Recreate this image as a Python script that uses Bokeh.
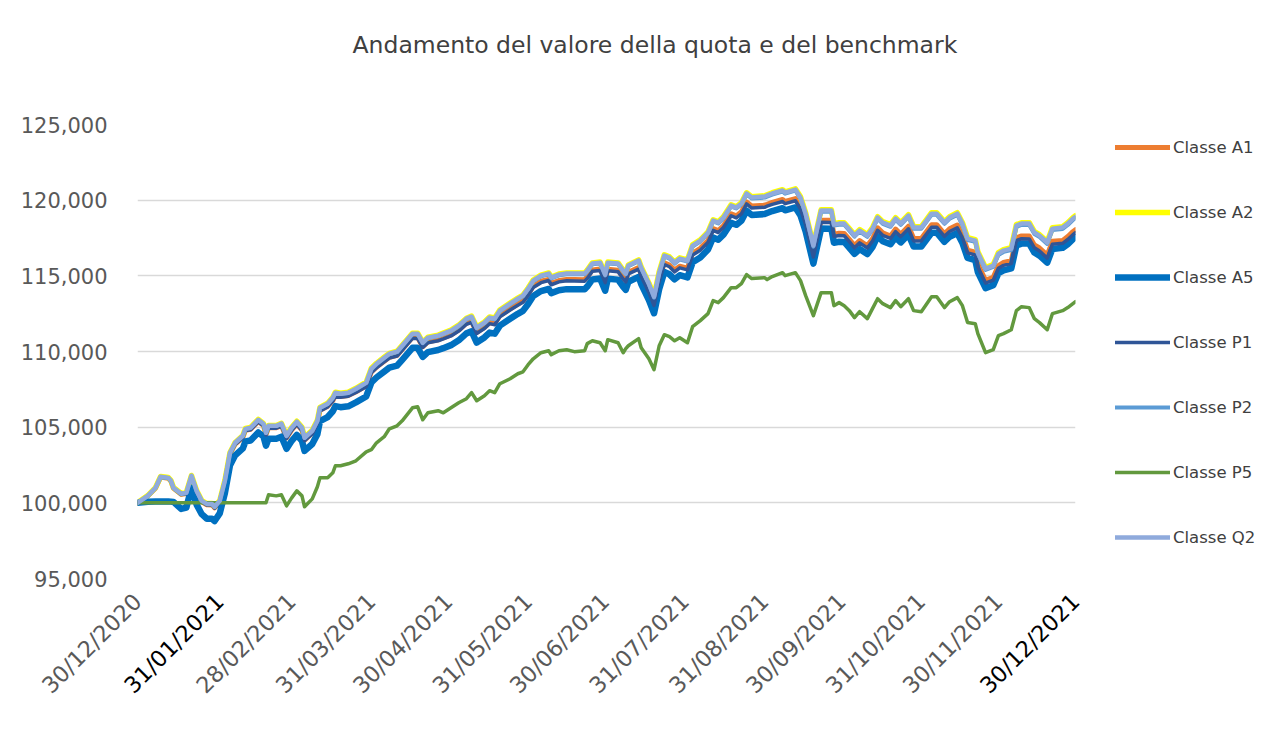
import pandas as pd
from bokeh.plotting import figure
from bokeh.models import (FixedTicker, DatetimeTickFormatter, NumeralTickFormatter,
                          Legend, LegendItem, Range1d, Title, DatetimeAxis)
from bokeh.embed import file_html
from bokeh.resources import INLINE

# ---------------- data ----------------
dates = [
    "2020-12-30", "2021-01-03", "2021-01-06", "2021-01-08", "2021-01-11", "2021-01-12", "2021-01-13",
    "2021-01-16", "2021-01-18", "2021-01-20", "2021-01-22", "2021-01-24", "2021-01-26", "2021-01-28",
    "2021-01-29", "2021-01-31", "2021-02-02", "2021-02-04", "2021-02-06", "2021-02-09", "2021-02-10",
    "2021-02-12", "2021-02-15", "2021-02-17", "2021-02-18", "2021-02-19", "2021-02-22", "2021-02-24",
    "2021-02-26", "2021-02-28", "2021-03-02", "2021-03-04", "2021-03-05", "2021-03-08", "2021-03-10",
    "2021-03-11", "2021-03-14", "2021-03-16", "2021-03-17", "2021-03-19", "2021-03-22", "2021-03-25",
    "2021-03-29", "2021-03-31", "2021-04-02", "2021-04-05", "2021-04-07", "2021-04-10", "2021-04-12",
    "2021-04-16", "2021-04-18", "2021-04-20", "2021-04-22", "2021-04-26", "2021-04-28", "2021-05-01",
    "2021-05-04", "2021-05-07", "2021-05-09", "2021-05-11", "2021-05-14", "2021-05-16", "2021-05-18",
    "2021-05-20", "2021-05-24", "2021-05-27", "2021-05-29", "2021-05-31", "2021-06-02", "2021-06-05",
    "2021-06-08", "2021-06-09", "2021-06-12", "2021-06-15", "2021-06-18", "2021-06-22", "2021-06-23",
    "2021-06-25", "2021-06-28", "2021-06-30", "2021-07-01", "2021-07-05", "2021-07-07", "2021-07-08",
    "2021-07-09", "2021-07-13", "2021-07-14", "2021-07-17", "2021-07-19", "2021-07-21", "2021-07-23",
    "2021-07-25", "2021-07-27", "2021-07-29", "2021-08-01", "2021-08-03", "2021-08-06", "2021-08-09",
    "2021-08-11", "2021-08-13", "2021-08-15", "2021-08-18", "2021-08-20", "2021-08-22", "2021-08-24",
    "2021-08-26", "2021-08-31", "2021-09-01", "2021-09-03", "2021-09-07", "2021-09-08", "2021-09-12",
    "2021-09-14", "2021-09-16", "2021-09-19", "2021-09-22", "2021-09-26", "2021-09-27", "2021-09-29",
    "2021-10-01", "2021-10-03", "2021-10-05", "2021-10-07", "2021-10-10", "2021-10-12", "2021-10-14",
    "2021-10-16", "2021-10-19", "2021-10-21", "2021-10-23", "2021-10-26", "2021-10-28", "2021-10-31",
    "2021-11-04", "2021-11-06", "2021-11-09", "2021-11-11", "2021-11-14", "2021-11-16", "2021-11-18",
    "2021-11-21", "2021-11-22", "2021-11-25", "2021-11-28", "2021-11-30", "2021-12-02", "2021-12-05",
    "2021-12-07", "2021-12-09", "2021-12-12", "2021-12-14", "2021-12-16", "2021-12-19", "2021-12-21",
    "2021-12-25", "2021-12-27", "2021-12-29", "2021-12-30",
]

classe_q2 = [
    100000, 100460, 100990, 101720, 101650, 101460, 100990, 100600, 100660, 101790, 100790, 100130,
    99930, 99930, 99740, 100130, 101460, 103310, 103970, 104430, 104890, 104960, 105490, 105230,
    104630, 105090, 105090, 105230, 104430, 104960, 105360, 104960, 104300, 104760, 105420, 106280,
    106550, 106940, 107280, 107210, 107280, 107540, 107940, 108860, 109190, 109590, 109850, 109990,
    110380, 111180, 111180, 110580, 110910, 111050, 111180, 111380, 111710, 112170, 112300, 111570,
    111910, 112240, 112170, 112700, 113160, 113490, 113690, 114150, 114680, 115010, 115150, 114880,
    115080, 115150, 115150, 115150, 115340, 115810, 115870, 115080, 115870, 115810, 115340, 115150,
    115680, 116010, 115540, 114480, 113620, 115210, 116340, 116200, 115870, 116140, 116010, 117000,
    117330, 117860, 118650, 118520, 118850, 119640, 119510, 119780, 120440, 120170, 120240, 120310,
    120440, 120640, 120500, 120700, 120170, 119110, 117000, 119310, 119310, 118390, 118450, 118450,
    118060, 117660, 117990, 117660, 118120, 118850, 118520, 118320, 118780, 118450, 118980, 118190,
    118190, 119110, 119110, 118520, 118850, 119110, 118450, 117460, 117330, 116540, 115480, 115680,
    116470, 116670, 116800, 118320, 118450, 118450, 117860, 117660, 117200, 118120, 118190, 118450,
    118780, 118910,
]

classe_a2 = [
    100000, 100480, 101010, 101740, 101670, 101480, 101010, 100620, 100680, 101810, 100810, 100150,
    99950, 99950, 99760, 100150, 101480, 103330, 103990, 104450, 104910, 104980, 105510, 105250,
    104650, 105110, 105110, 105250, 104450, 104990, 105390, 104990, 104330, 104790, 105450, 106310,
    106580, 106970, 107310, 107240, 107310, 107570, 107970, 108890, 109220, 109620, 109880, 110020,
    110410, 111210, 111210, 110610, 110940, 111080, 111210, 111410, 111740, 112200, 112340, 111610,
    111950, 112280, 112210, 112740, 113200, 113530, 113730, 114190, 114720, 115050, 115190, 114920,
    115120, 115190, 115190, 115190, 115380, 115850, 115910, 115120, 115910, 115850, 115380, 115190,
    115720, 116050, 115580, 114520, 113670, 115260, 116390, 116250, 115920, 116190, 116060, 117050,
    117380, 117910, 118700, 118570, 118900, 119690, 119560, 119830, 120490, 120220, 120290, 120360,
    120490, 120690, 120550, 120750, 120220, 119160, 117050, 119360, 119370, 118450, 118510, 118510,
    118120, 117720, 118050, 117720, 118180, 118910, 118580, 118380, 118840, 118510, 119040, 118250,
    118250, 119170, 119170, 118580, 118910, 119170, 118510, 117520, 117390, 116600, 115540, 115740,
    116530, 116730, 116860, 118380, 118510, 118510, 117920, 117720, 117260, 118180, 118250, 118510,
    118840, 118970,
]

classe_p2 = [
    100000, 100450, 100980, 101710, 101640, 101450, 100980, 100590, 100650, 101780, 100780, 100120,
    99920, 99920, 99730, 100120, 101450, 103300, 103960, 104410, 104870, 104940, 105470, 105210,
    104610, 105070, 105070, 105210, 104410, 104940, 105340, 104940, 104280, 104740, 105400, 106260,
    106530, 106920, 107260, 107190, 107250, 107510, 107910, 108830, 109160, 109560, 109820, 109960,
    110350, 111150, 111150, 110550, 110880, 111020, 111150, 111340, 111670, 112130, 112260, 111530,
    111870, 112200, 112130, 112660, 113120, 113450, 113650, 114110, 114640, 114970, 115100, 114830,
    115030, 115100, 115100, 115100, 115290, 115760, 115820, 115030, 115820, 115760, 115290, 115100,
    115630, 115960, 115490, 114430, 113560, 115150, 116280, 116140, 115810, 116080, 115950, 116940,
    117270, 117800, 118590, 118460, 118790, 119580, 119450, 119720, 120380, 120110, 120170, 120240,
    120370, 120570, 120430, 120630, 120100, 119040, 116930, 119240, 119240, 118320, 118380, 118380,
    117990, 117590, 117920, 117580, 118040, 118770, 118440, 118240, 118700, 118370, 118900, 118110,
    118110, 119030, 119030, 118440, 118770, 119030, 118360, 117370, 117240, 116450, 115390, 115590,
    116380, 116580, 116710, 118230, 118360, 118360, 117770, 117570, 117110, 118030, 118100, 118360,
    118690, 118820,
]

classe_a1 = [
    100000, 100450, 100970, 101700, 101620, 101430, 100960, 100560, 100620, 101740, 100740, 100070,
    99870, 99860, 99670, 100050, 101380, 103230, 103880, 104330, 104790, 104860, 105380, 105110,
    104510, 104970, 104960, 105100, 104290, 104820, 105210, 104810, 104150, 104600, 105260, 106110,
    106380, 106760, 107100, 107020, 107090, 107340, 107730, 108650, 108970, 109360, 109620, 109750,
    110140, 110930, 110920, 110320, 110640, 110780, 110900, 111090, 111420, 111870, 111990, 111260,
    111590, 111920, 111840, 112370, 112820, 113140, 113340, 113790, 114320, 114640, 114770, 114500,
    114690, 114760, 114750, 114740, 114930, 115390, 115450, 114650, 115440, 115370, 114900, 114700,
    115230, 115550, 115080, 114010, 113150, 114730, 115860, 115710, 115380, 115640, 115510, 116490,
    116820, 117340, 118120, 117990, 118310, 119100, 118960, 119230, 119880, 119610, 119670, 119730,
    119860, 120050, 119910, 120100, 119560, 118500, 116380, 118680, 118680, 117750, 117810, 117800,
    117410, 117000, 117330, 116990, 117450, 118170, 117840, 117630, 118090, 117750, 118280, 117480,
    117470, 118380, 118380, 117780, 118110, 118360, 117700, 116700, 116560, 115770, 114700, 114900,
    115680, 115880, 116000, 117520, 117640, 117630, 117040, 116840, 116370, 117280, 117340, 117600,
    117920, 118050,
]

classe_p1 = [
    100000, 100450, 100970, 101690, 101620, 101420, 100950, 100550, 100600, 101730, 100720, 100060,
    99850, 99850, 99650, 100040, 101360, 103210, 103860, 104310, 104770, 104830, 105350, 105090,
    104480, 104940, 104930, 105070, 104260, 104790, 105180, 104770, 104110, 104560, 105220, 106070,
    106340, 106720, 107060, 106980, 107040, 107290, 107680, 108600, 108920, 109310, 109570, 109700,
    110080, 110870, 110860, 110260, 110580, 110710, 110830, 111030, 111350, 111800, 111920, 111190,
    111520, 111840, 111770, 112290, 112740, 113060, 113250, 113710, 114230, 114550, 114690, 114410,
    114600, 114670, 114660, 114650, 114830, 115300, 115350, 114550, 115340, 115270, 114790, 114600,
    115130, 115440, 114970, 113900, 113040, 114620, 115750, 115600, 115260, 115530, 115390, 116370,
    116690, 117220, 118000, 117860, 118190, 118970, 118830, 119100, 119750, 119480, 119530, 119600,
    119720, 119910, 119770, 119960, 119420, 118360, 116240, 118540, 118530, 117600, 117660, 117650,
    117260, 116850, 117180, 116840, 117290, 118010, 117680, 117470, 117920, 117590, 118110, 117310,
    117310, 118210, 118210, 117610, 117930, 118180, 117520, 116520, 116380, 115590, 114520, 114710,
    115500, 115690, 115810, 117330, 117450, 117440, 116850, 116640, 116170, 117090, 117150, 117400,
    117720, 117850,
]

classe_a5 = [
    100000, 100070, 100080, 100090, 100090, 100080, 100060, 99600, 99680, 101000, 99880, 99250,
    98950, 98950, 98800, 99300, 100640, 102490, 103140, 103600, 104060, 104120, 104650, 104390,
    103780, 104240, 104240, 104370, 103570, 104100, 104490, 104090, 103430, 103890, 104540, 105400,
    105670, 106050, 106390, 106320, 106380, 106640, 107030, 107950, 108280, 108670, 108930, 109060,
    109450, 110240, 110240, 109640, 109960, 110100, 110220, 110420, 110740, 111200, 111330, 110590,
    110930, 111250, 111180, 111710, 112160, 112490, 112680, 113140, 113670, 113990, 114130, 113860,
    114050, 114120, 114110, 114110, 114290, 114760, 114820, 114020, 114810, 114750, 114270, 114080,
    114610, 114930, 114460, 113400, 112530, 114120, 115250, 115100, 114770, 115040, 114900, 115890,
    116210, 116740, 117530, 117390, 117720, 118500, 118370, 118640, 119300, 119020, 119080, 119150,
    119280, 119470, 119330, 119520, 118990, 117930, 115810, 118120, 118110, 117190, 117250, 117240,
    116850, 116450, 116770, 116440, 116900, 117620, 117290, 117090, 117540, 117210, 117730, 116940,
    116940, 117850, 117850, 117250, 117580, 117830, 117170, 116180, 116040, 115250, 114190, 114380,
    115170, 115360, 115490, 117010, 117130, 117130, 116540, 116330, 115870, 116780, 116850, 117100,
    117430, 117560,
]

classe_p5 = [
    100000, 100000, 100000, 100000, 100000, 100000, 100000, 100000, 100000, 100000, 100000, 100000,
    100000, 100000, 100000, 100000, 100000, 100000, 100000, 100000, 100000, 100000, 100000, 100000,
    100000, 100530, 100460, 100530, 99800, 100330, 100790, 100460, 99740, 100260, 101060, 101650,
    101650, 101980, 102450, 102450, 102580, 102780, 103370, 103510, 103970, 104370, 104890, 105090,
    105420, 106280, 106350, 105490, 105950, 106090, 105950, 106280, 106610, 106880, 107280, 106750,
    107080, 107410, 107280, 107870, 108200, 108530, 108660, 109130, 109520, 109920, 110050, 109790,
    110050, 110120, 109990, 110050, 110520, 110710, 110580, 110050, 110780, 110580, 109920, 110190,
    110380, 110850, 110250, 109520, 108800, 110380, 111110, 110980, 110710, 110910, 110580, 111640,
    112040, 112500, 113360, 113230, 113560, 114220, 114220, 114490, 115080, 114820, 114880, 114750,
    114950, 115210, 115010, 115210, 114680, 113690, 112370, 113890, 113890, 113030, 113230, 113030,
    112700, 112240, 112630, 112170, 112830, 113490, 113160, 112900, 113360, 112960, 113490, 112700,
    112630, 113620, 113620, 112900, 113290, 113560, 113030, 111910, 111840, 111180, 109920, 110120,
    111050, 111180, 111440, 112700, 112960, 112900, 112170, 111910, 111440, 112500, 112700, 112900,
    113160, 113290,
]

series_names = ["Classe A1", "Classe A2", "Classe A5", "Classe P1", "Classe P2", "Classe P5", "Classe Q2"]
tick_dates = ["2020-12-30", "2021-02-28", "2021-03-31", "2021-04-30", "2021-05-31",
              "2021-06-30", "2021-07-31", "2021-08-31", "2021-09-30", "2021-10-31", "2021-11-30"]
dark_tick_dates = ["2021-01-31", "2021-12-30"]
y_ticks = [95000, 100000, 105000, 110000, 115000, 120000, 125000]

# ---------------- figure ----------------
x = pd.to_datetime(dates)
tick_ms = [pd.Timestamp(d).value // 10**6 for d in tick_dates]
dark_tick_ms = [pd.Timestamp(d).value // 10**6 for d in dark_tick_dates]

p = figure(frame_width=938, frame_height=454, output_backend="svg", toolbar_location=None,
           x_axis_type="datetime",
           x_range=Range1d(pd.Timestamp("2020-12-30"), pd.Timestamp("2021-12-30")),
           y_range=Range1d(95000, 125000),
           min_border_left=137, min_border_right=201, min_border_top=124, min_border_bottom=152)
p.outline_line_color = None
p.background_fill_color = "white"
p.border_fill_color = "white"

p.title.text = "Andamento del valore della quota e del benchmark"
p.title.text_font = "DejaVu Sans"
p.title.text_font_size = "23.5px"
p.title.text_font_style = "normal"
p.title.text_color = "#404040"
p.title.align = "left"
p.title.vertical_align = "middle"
p.title.offset = 215
p.title.standoff = 0

# empty spacer between the title and the plotting area
p.add_layout(Title(text=" ", text_font_size="1px", standoff=62), "above")

FONT = "DejaVu Sans"
DATE_FMT = DatetimeTickFormatter(
    milliseconds="%d/%m/%Y", seconds="%d/%m/%Y", minsec="%d/%m/%Y", minutes="%d/%m/%Y",
    hourmin="%d/%m/%Y", hours="%d/%m/%Y", days="%d/%m/%Y", months="%d/%m/%Y", years="%d/%m/%Y")


def style_xaxis(ax, color, standoff):
    ax.formatter = DATE_FMT
    ax.major_label_orientation = 0.785398
    ax.axis_line_color = None
    ax.major_tick_line_color = None
    ax.minor_tick_line_color = None
    ax.major_tick_out = 0
    ax.major_tick_in = 0
    ax.minor_tick_out = 0
    ax.minor_tick_in = 0
    ax.major_label_text_font = FONT
    ax.major_label_text_font_size = "22.5px"
    ax.major_label_text_color = color
    ax.major_label_standoff = standoff


xa = p.xaxis[0]
xa.ticker = FixedTicker(ticks=tick_ms)
style_xaxis(xa, "#595959", 19)

# second axis row drawn back up onto the first one, for the two darker labels
xa2 = DatetimeAxis(ticker=FixedTicker(ticks=dark_tick_ms))
style_xaxis(xa2, "#000000", -113)
p.add_layout(xa2, "below")

ya = p.yaxis[0]
ya.ticker = FixedTicker(ticks=y_ticks)
ya.formatter = NumeralTickFormatter(format="0,0")
ya.axis_line_color = None
ya.major_tick_line_color = None
ya.minor_tick_line_color = None
ya.major_label_text_font = FONT
ya.major_label_text_font_size = "21px"
ya.major_label_text_color = "#595959"
ya.major_label_standoff = 24

p.xgrid.grid_line_color = None
p.ygrid.grid_line_color = "#d9d9d9"
p.ygrid.grid_line_width = 1.5

styles = [
    (classe_a1, "#ED7D31", 5),
    (classe_a2, "#FFFF00", 5.5),
    (classe_a5, "#0070C0", 6.5),
    (classe_p1, "#2F5597", 3.5),
    (classe_p2, "#5B9BD5", 4),
    (classe_p5, "#62993E", 3.5),
    (classe_q2, "#8FAADC", 4.5),
]
items = []
for name, (vals, col, w) in zip(series_names, styles):
    r = p.line(x, vals, line_color=col, line_width=w, line_join="round", line_cap="round")
    items.append(LegendItem(label=name, renderers=[r]))

legend = Legend(items=items, location=(40, 31), orientation="vertical",
                glyph_width=55, glyph_height=20, label_height=20, spacing=45,
                padding=0, margin=0, label_standoff=3,
                label_text_font=FONT, label_text_font_size="16.5px", label_text_color="#404040",
                background_fill_alpha=0, border_line_alpha=0)
p.add_layout(legend, "right")

open("out.html", "w").write(file_html(p, INLINE))
